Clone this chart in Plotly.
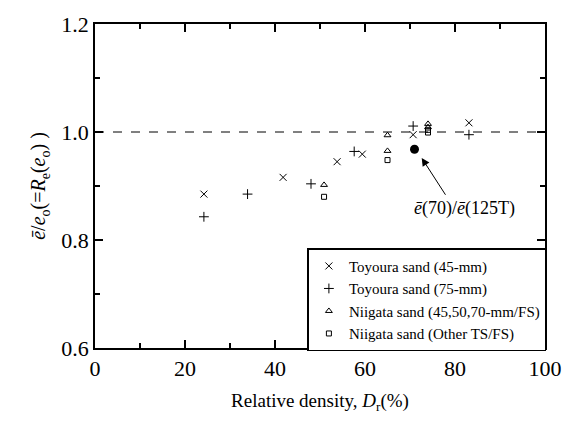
import plotly.graph_objects as go

# Data
toy45_x = [24.2, 41.8, 53.8, 59.4, 70.7, 83.1]
toy45_y = [0.885, 0.916, 0.945, 0.959, 0.995, 1.017]
toy75_x = [24.2, 33.9, 48.0, 57.6, 70.7, 83.1]
toy75_y = [0.843, 0.885, 0.904, 0.964, 1.011, 0.995]
nii_tri_x = [50.9, 65.0, 65.0, 74.0, 74.0]
nii_tri_y = [0.902, 0.994, 0.965, 1.015, 1.009]
nii_sq_x = [50.9, 65.0, 74.0, 74.0]
nii_sq_y = [0.880, 0.948, 1.004, 0.999]
ratio_x = [71.0]
ratio_y = [0.968]

FONT = "Liberation Serif"

fig = go.Figure()

def add(x, y, name, symbol, size):
    fig.add_trace(go.Scatter(
        x=x, y=y, mode="markers", name=name,
        marker=dict(symbol=symbol, size=size, color="black",
                    line=dict(color="black", width=1)),
    ))

add(toy45_x, toy45_y, "Toyoura sand (45-mm)", "x-thin-open", 7)
add(toy75_x, toy75_y, "Toyoura sand (75-mm)", "cross-thin-open", 7)
add(nii_tri_x, nii_tri_y, "Niigata sand (45,50,70-mm/FS)", "triangle-up-open", 6)
add(nii_sq_x, nii_sq_y, "Niigata sand (Other TS/FS)", "square-open", 5)
fig.add_trace(go.Scatter(x=ratio_x, y=ratio_y, mode="markers", showlegend=False,
                         marker=dict(symbol="circle", size=9, color="black")))

fig.add_shape(type="line", x0=0, x1=100, y0=1.0, y1=1.0, xref="x", yref="y",
              line=dict(color="black", width=1, dash="dash"))

fig.add_annotation(x=72.6, y=0.952, ax=78.1, ay=0.881, xref="x", yref="y",
                   axref="x", ayref="y", text="", showarrow=True,
                   arrowhead=2, arrowsize=1.6, arrowwidth=1, arrowcolor="black")
fig.add_annotation(x=82.1, y=0.858, xref="x", yref="y", showarrow=False,
                   text="<i>e\u0304</i>(70)/<i>e\u0304</i>(125T)",
                   font=dict(family=FONT, size=18, color="black"))

fig.update_layout(
    width=574, height=425,
    margin=dict(l=95, r=20, t=16, b=77),
    plot_bgcolor="white", paper_bgcolor="white",
    font=dict(family=FONT, color="black"),
    xaxis=dict(
        range=[0, 100], tick0=0, dtick=20,
        showgrid=False, zeroline=False, showline=True, linecolor="black", linewidth=1.5,
        mirror="allticks", ticks="inside", ticklen=8, tickwidth=1.5, tickcolor="black",
        tickfont=dict(family=FONT, size=22, color="black"),
        minor=dict(ticks="inside", dtick=10, ticklen=5, tickwidth=1.5, tickcolor="black"),
        title=dict(text="Relative density, <i>D</i><sub>r</sub>(%)",
                   font=dict(family=FONT, size=19, color="black"), standoff=14),
    ),
    yaxis=dict(
        range=[0.6, 1.2], tick0=0.6, dtick=0.2, tickformat=".1f",
        showgrid=False, zeroline=False, showline=True, linecolor="black", linewidth=1.5,
        mirror="allticks", ticks="inside", ticklen=8, tickwidth=1.5, tickcolor="black",
        tickfont=dict(family=FONT, size=22, color="black"),
        minor=dict(ticks="inside", dtick=0.1, ticklen=5, tickwidth=1.5, tickcolor="black"),
        title=dict(text="<i>e\u0304</i>/<i>e</i><sub>o</sub>(=<i>R</i><sub>e</sub>(<i>e</i><sub>o</sub>) )",
                   font=dict(family=FONT, size=20, color="black"), standoff=10),
    ),
    legend=dict(x=0.472, y=0.308, xanchor="left", yanchor="top",
                bordercolor="black", borderwidth=1.5, bgcolor="white",
                font=dict(family=FONT, size=15, color="black"),
                tracegroupgap=0),
)

fig.write_html("out.html")
